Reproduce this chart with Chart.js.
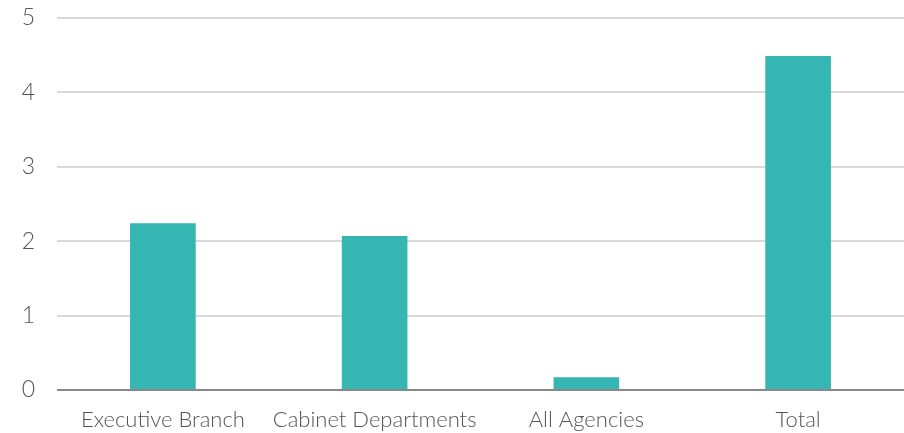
<!DOCTYPE html>
<html>
<head>
<meta charset="utf-8">
<script src="https://cdn.jsdelivr.net/npm/chart.js@4"></script>
<style>
  html, body { margin: 0; padding: 0; background: #fff; }
  #wrap { width: 904px; height: 433px; position: relative; }
</style>
</head>
<body>
<div id="wrap"><canvas id="chart"></canvas></div>
<script>
const categorias = ['Executive Branch', 'Cabinet Departments', 'All Agencies', 'Total'];
const valores = [2.24, 2.07, 0.17, 4.49];
const yTicks = [0, 1, 2, 3, 4, 5];

const fonte = "'Lato', 'Open Sans', sans-serif";

const ctx = document.getElementById('chart').getContext('2d');
new Chart(ctx, {
  type: 'bar',
  data: {
    labels: categorias,
    datasets: [{
      data: valores,
      backgroundColor: '#35b6b3',
      barPercentage: 0.31,
      categoryPercentage: 1
    }]
  },
  options: {
    responsive: true,
    maintainAspectRatio: false,
    animation: false,
    layout: { padding: { top: 18, right: 0, bottom: 0, left: 0 } },
    plugins: { legend: { display: false }, tooltip: { enabled: false } },
    scales: {
      x: {
        afterFit: axis => { axis.height = 43; axis.paddingLeft = 0; axis.paddingRight = 0; },
        grid: { display: false },
        border: { display: false },
        ticks: { color: '#555', font: { family: fonte, size: 22, weight: '300' }, padding: 9 }
      },
      y: {
        min: 0,
        max: 5,
        afterBuildTicks: axis => { axis.ticks = yTicks.map(v => ({ value: v })); },
        afterFit: axis => { axis.width = 57; axis.paddingTop = 0; axis.paddingBottom = 0; },
        border: { display: false },
        grid: {
          drawTicks: false,
          lineWidth: 2,
          color: c => c.tick && c.tick.value === 0 ? '#888' : '#d9d9d9'
        },
        ticks: {
          color: '#555',
          font: { family: fonte, size: 23, weight: '300' },
          padding: 22
        }
      }
    }
  }
});
</script>
</body>
</html>
